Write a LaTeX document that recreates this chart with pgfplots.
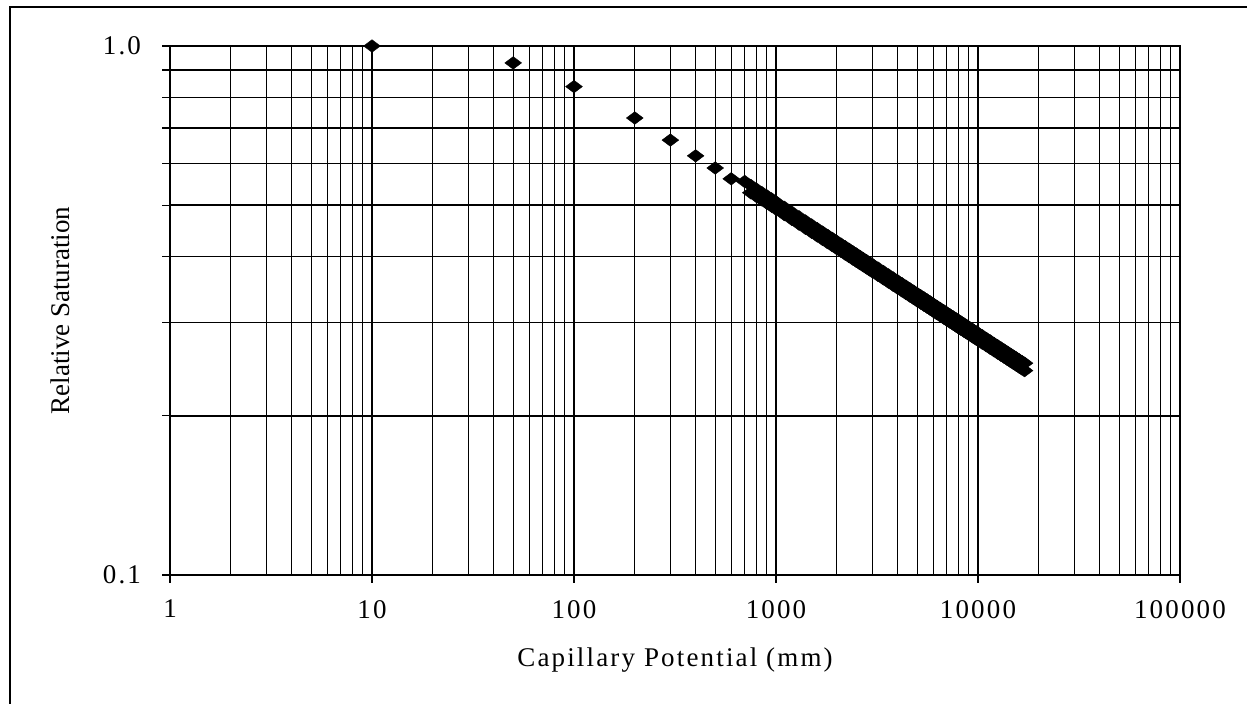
\documentclass[border=0pt]{standalone}
\usepackage{fontspec}
\setmainfont{Liberation Serif}
\newfontfamily\spaced[LetterSpace=8]{Liberation Serif}
\usepackage{pgfplots}
\pgfplotsset{compat=1.18}
\begin{document}
\begin{tikzpicture}
\useasboundingbox (-85pt,-64.5pt) rectangle (538.5pt,287.5pt);
\draw[line width=0.7pt] (-80pt,-64.5pt) -- (-80pt,284pt) -- (538.5pt,284pt);
\begin{axis}[
  at={(0,0)}, anchor=south west,
  scale only axis, width=505pt, height=264.5pt,
  xmode=log, ymode=log,
  xmin=1, xmax=100000, ymin=0.1, ymax=1,
  xtick={1,10,100,1000,10000,100000},
  xticklabels={1,10,100,1000,10000,100000},
  ytick={0.1,1}, yticklabels={0.1,1.0},
  extra y ticks={0.2,0.3,0.4,0.5,0.6,0.7,0.8,0.9},
  extra y tick labels={},
  grid=both,
  major grid style={black, line width=0.75pt},
  minor grid style={black, line width=0.65pt},
  axis line style={black, line width=0.9pt},
  tick align=outside, tick pos=left,
  major tick length=4pt, minor tick length=0pt,
  every tick/.style={black, line width=0.7pt},
  xticklabel style={font=\fontsize{13.5}{16}\selectfont\spaced, yshift=-5pt},
  yticklabel style={font=\fontsize{13.5}{16}\selectfont\spaced, xshift=-7pt},
  clip=false,
]
\addplot[only marks, mark=diamond*, mark size=4.2pt,
  mark options={rotate=90, fill=black, draw=black, line width=0.2pt}]
coordinates {
(10,1.0) (50,0.929) (100,0.838) (200,0.731) (300,0.664) (400,0.620)
(500,0.588) (600,0.561)
(700,0.5544) (750,0.5451) (800,0.5364) (850,0.5284) (900,0.5210) (950,0.5141)
(1000,0.5075) (1100,0.4956) (1200,0.4850) (1300,0.4755) (1400,0.4669)
(1500,0.4589) (1600,0.4516) (1700,0.4449) (1800,0.4386) (1900,0.4328)
(2000,0.4273) (2100,0.4221) (2200,0.4174) (2300,0.4128) (2400,0.4084)
(2500,0.4044) (2600,0.4004) (2700,0.3966) (2800,0.3931) (2900,0.3897)
(3000,0.3865) (3200,0.3804) (3400,0.3747) (3600,0.3694) (3800,0.3644)
(4000,0.3599) (4200,0.3556) (4400,0.3514) (4600,0.3476) (4800,0.3440)
(5000,0.3405) (5200,0.3372) (5400,0.3341) (5600,0.3311) (5800,0.3283)
(6000,0.3254) (6250,0.3222) (6500,0.3190) (6750,0.3161) (7000,0.3132)
(7250,0.3105) (7500,0.3080) (7750,0.3054) (8000,0.3030) (8250,0.3007)
(8500,0.2985) (8750,0.2964) (9000,0.2943) (9250,0.2923) (9500,0.2904)
(9750,0.2885) (10000,0.2867) (10500,0.2833) (11000,0.2800) (11500,0.2770)
(12000,0.2740) (12500,0.2713) (13000,0.2686) (13500,0.2662) (14000,0.2638)
(14500,0.2614) (15000,0.2593) (15500,0.2572) (16000,0.2551) (16500,0.2532)
(17000,0.2514)
};
\addplot[only marks, mark=diamond*, mark size=4.2pt,
  mark options={rotate=90, fill=black, draw=black, line width=0.2pt}]
coordinates {
(750,0.5279) (800,0.5196) (850,0.5118) (900,0.5046) (950,0.4979)
(1000,0.4915) (1100,0.4800) (1200,0.4698) (1300,0.4605) (1400,0.4521)
(1500,0.4445) (1600,0.4374) (1700,0.4309) (1800,0.4248) (1900,0.4192)
(2000,0.4139) (2100,0.4089) (2200,0.4042) (2300,0.3998) (2400,0.3956)
(2500,0.3916) (2600,0.3878) (2700,0.3842) (2800,0.3807) (2900,0.3775)
(3000,0.3743) (3200,0.3684) (3400,0.3629) (3600,0.3578) (3800,0.3530)
(4000,0.3485) (4200,0.3444) (4400,0.3404) (4600,0.3366) (4800,0.3332)
(5000,0.3297) (5200,0.3266) (5400,0.3235) (5600,0.3207) (5800,0.3179)
(6000,0.3152) (6250,0.3120) (6500,0.3090) (6750,0.3061) (7000,0.3034)
(7250,0.3007) (7500,0.2983) (7750,0.2958) (8000,0.2934) (8250,0.2913)
(8500,0.2891) (8750,0.2870) (9000,0.2851) (9250,0.2831) (9500,0.2812)
(9750,0.2795) (10000,0.2777) (10500,0.2743) (11000,0.2712) (11500,0.2682)
(12000,0.2654) (12500,0.2627) (13000,0.2602) (13500,0.2578) (14000,0.2554)
(14500,0.2532) (15000,0.2511) (15500,0.2491) (16000,0.2471) (16500,0.2452)
(17000,0.2434)
};
\end{axis}
\node[rotate=90, anchor=base, font=\fontsize{13.5}{16}\selectfont] at (-50pt,132.25pt) {Relative Saturation};
\node[anchor=base, font=\fontsize{13.5}{16}\selectfont\spaced] at (252.5pt,-46pt) {Capillary Potential (mm)};
\end{tikzpicture}
\end{document}
